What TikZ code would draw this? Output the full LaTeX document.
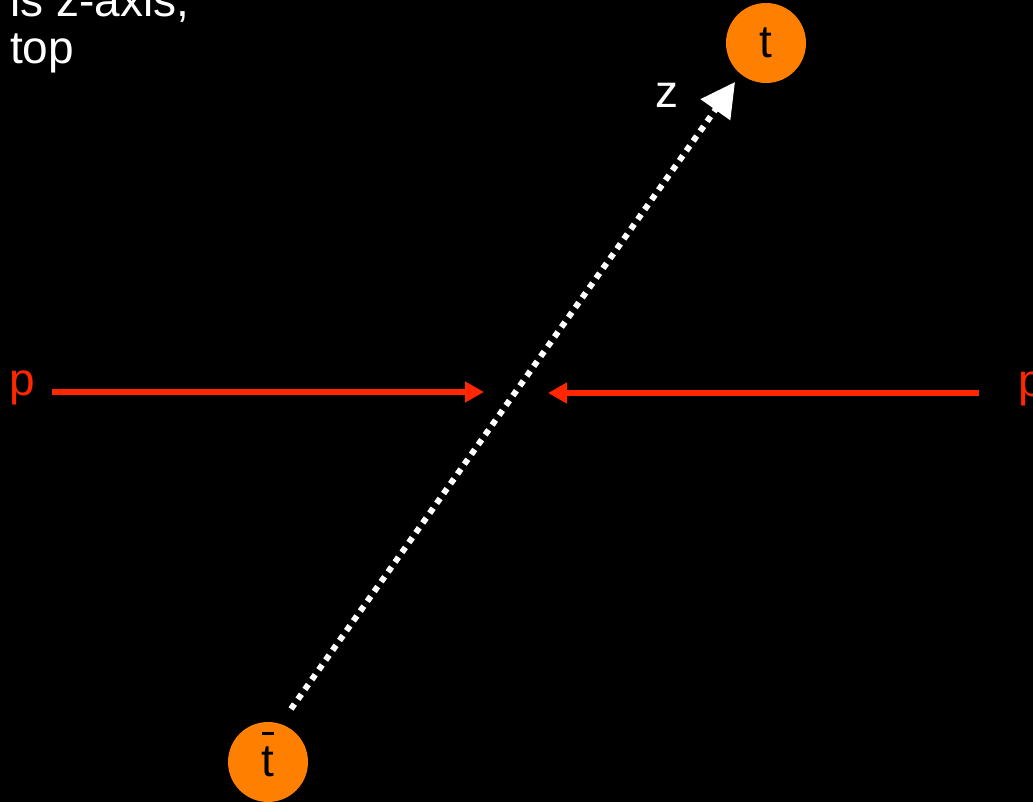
\documentclass[tikz,border=0pt]{standalone}
\usepackage{fontspec}
\setmainfont{Liberation Sans}
\usetikzlibrary{arrows.meta}
\definecolor{porange}{RGB}{255,128,0}
\definecolor{pred}{RGB}{255,38,0}
\tikzset{
  big/.style={font=\fontsize{46}{47}\selectfont},
  label/.style={big, text=white, inner sep=0pt, anchor=base west},
  plabel/.style={big, text=pred, inner sep=0pt, anchor=base west},
  quark/.style={circle, fill=porange, minimum size=80pt, inner sep=0pt, big, text=black},
  zaxis/.style={white, line width=6pt, dash pattern=on 6pt off 6pt, -{Triangle[length=34pt,width=35pt]}},
  parrow/.style={pred, line width=5.5pt, -{Triangle[length=19pt,width=20pt]}}
}
\begin{document}
\begin{tikzpicture}[x=1pt,y=-1pt]
\fill[black] (0,0) rectangle (1033,802);
\clip (0,0) rectangle (1033,802);
\node[label] (l1) at (10,17) {is z-axis,};
\node[label] (l2) at (10,64) {top};
\node[quark] (t) at (766,43) {t};
\node[quark] (tb) at (268,762) {\rlap{\smash{\raisebox{42pt}{\rule{12pt}{3pt}}}}t};
\coordinate (zs) at (291,709);
\coordinate (ze) at (735,82);
\draw[zaxis] (zs) -- (ze);
\node[label] (z) at (655,108) {z};
\node[plabel] (pl) at (9,395) {p};
\node[plabel] (pr) at (1018,396) {p};
\coordinate (al) at (52,392);
\coordinate (bl) at (484,392);
\coordinate (ar) at (979,393);
\coordinate (br) at (548,393);
\draw[parrow] (al) -- (bl);
\draw[parrow] (ar) -- (br);
\end{tikzpicture}
\end{document}
